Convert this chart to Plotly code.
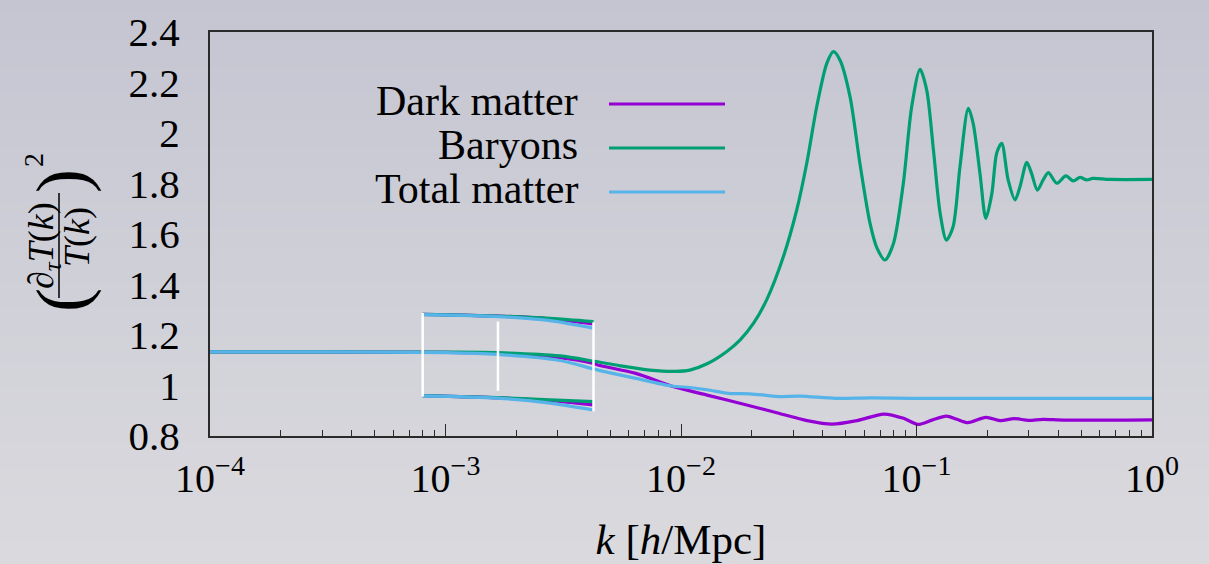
import base64, struct, zlib
import plotly.graph_objects as go

# ---------------- data ----------------
k_dm = [1e-4, 3e-4, 1e-3, 1.66e-3, 3.06e-3, 4.22e-3, 4.53e-3, 6.43e-3, 9.1e-3, 1.29e-2,
        1.83e-2, 2.60e-2, 3.43e-2, 4.38e-2, 5.59e-2, 7.28e-2, 8.81e-2, 0.1014, 0.1164,
        0.134, 0.1486, 0.1653, 0.197, 0.2264, 0.2596, 0.299, 0.344, 0.423, 1.0]
dark_matter = [1.133, 1.133, 1.131, 1.127, 1.110, 1.088, 1.079, 1.048, 0.998, 0.962,
               0.927, 0.890, 0.861, 0.847, 0.861, 0.887, 0.870, 0.846, 0.863,
               0.879, 0.866, 0.853, 0.874, 0.861, 0.869, 0.862, 0.866, 0.863, 0.864]

k_b = [1e-4, 3e-4, 1e-3, 1.66e-3, 3.06e-3, 4.22e-3, 5.51e-3, 7.38e-3, 9.44e-3, 1.09e-2,
       1.29e-2, 1.56e-2, 1.78e-2, 2.03e-2, 2.31e-2, 2.72e-2, 3.10e-2, 3.42e-2, 3.77e-2,
       4.16e-2, 4.44e-2, 4.73e-2, 5.22e-2, 5.75e-2, 6.35e-2, 6.79e-2, 7.35e-2, 7.97e-2,
       8.79e-2, 9.54e-2, 0.1035, 0.1105, 0.118, 0.126, 0.134, 0.143, 0.153, 0.166, 0.174,
       0.186, 0.197, 0.209, 0.219, 0.230, 0.245, 0.262, 0.275, 0.294, 0.308, 0.326, 0.345,
       0.363, 0.394, 0.431, 0.463, 0.495, 0.528, 0.561, 0.663, 1.0]
baryons = [1.133, 1.133, 1.132, 1.130, 1.117, 1.097, 1.078, 1.061, 1.056, 1.061,
           1.086, 1.134, 1.180, 1.246, 1.339, 1.510, 1.695, 1.880, 2.104,
           2.276, 2.322, 2.289, 2.144, 1.880, 1.642, 1.545, 1.497, 1.560,
           1.800, 2.104, 2.252, 2.170, 1.933, 1.682, 1.576, 1.629, 1.867, 2.098, 2.038,
           1.840, 1.662, 1.761, 1.920, 1.959, 1.814, 1.735, 1.787, 1.884, 1.840, 1.774, 1.814,
           1.843, 1.801, 1.830, 1.810, 1.824, 1.814, 1.820, 1.816, 1.816]

k_tot = [1e-4, 3e-4, 1e-3, 1.66e-3, 3.06e-3, 4.22e-3, 4.53e-3, 6.43e-3, 9.1e-3, 1.09e-2,
         1.29e-2, 1.59e-2, 1.96e-2, 2.3e-2, 2.6e-2, 3.2e-2, 4.54e-2, 6.41e-2, 0.105, 1.0]
total_matter = [1.133, 1.133, 1.130, 1.123, 1.099, 1.066, 1.059, 1.028, 0.998, 0.992,
                0.983, 0.969, 0.967, 0.961, 0.956, 0.958, 0.949, 0.951, 0.949, 0.949]

# shifted copies inside the white bracket
k_copy = [8.0e-4, 1.67e-3, 2.78e-3, 4.25e-3]
upper_dm = [1.282, 1.275, 1.264, 1.244]
upper_b = [1.282, 1.275, 1.266, 1.253]
upper_tot = [1.281, 1.273, 1.257, 1.227]
lower_dm = [0.960, 0.951, 0.940, 0.923]
lower_b = [0.960, 0.952, 0.943, 0.936]
lower_tot = [0.959, 0.950, 0.930, 0.903]

# white vertical bars
bar_k = [8.0e-4, 1.67e-3, 4.25e-3]
bar_top = [1.287, 1.253, 1.250]
bar_bot = [0.956, 0.979, 0.897]

series_names = ["Dark matter", "Baryons", "Total matter"]
x_tickvals = [1e-4, 1e-3, 1e-2, 1e-1, 1]
x_ticktext = ["10<sup>−4</sup>", "10<sup>−3</sup>", "10<sup>−2</sup>", "10<sup>−1</sup>", "10<sup>0</sup>"]
y_tickvals = [0.8, 1.0, 1.2, 1.4, 1.6, 1.8, 2.0, 2.2, 2.4]
y_ticktext = ["0.8", "1", "1.2", "1.4", "1.6", "1.8", "2", "2.2", "2.4"]

# ---------------- style ----------------
C_DM, C_B, C_T = "#9400d3", "#009e73", "#56b4e9"
FONT = "Liberation Serif"
W, H = 1209, 564
L, R, T, B = 210, 57, 32, 128
PW, PH = W - L - R, H - T - B


def px(x):
    return (x - L) / PW


def py(y):
    return (H - B - y) / PH


def gradient_png(h, top, bot):
    raw = b""
    for i in range(h):
        t = i / (h - 1)
        c = bytes(int(round(top[j] + (bot[j] - top[j]) * t)) for j in range(3))
        raw += b"\x00" + c

    def chunk(tag, data):
        return struct.pack(">I", len(data)) + tag + data + struct.pack(">I", zlib.crc32(tag + data) & 0xffffffff)

    png = b"\x89PNG\r\n\x1a\n" + chunk(b"IHDR", struct.pack(">IIBBBBB", 1, h, 8, 2, 0, 0, 0))
    png += chunk(b"IDAT", zlib.compress(raw)) + chunk(b"IEND", b"")
    return "data:image/png;base64," + base64.b64encode(png).decode()


fig = go.Figure()


def line(x, y, color, width=3.2):
    fig.add_trace(go.Scatter(x=x, y=y, mode="lines", line=dict(color=color, width=width, shape="spline", smoothing=0.8),
                             showlegend=False, hoverinfo="skip"))


line(k_dm, dark_matter, C_DM)
line(k_b, baryons, C_B)
line(k_tot, total_matter, C_T)
for ys, c in [(upper_dm, C_DM), (upper_b, C_B), (upper_tot, C_T), (lower_dm, C_DM), (lower_b, C_B), (lower_tot, C_T)]:
    line(k_copy, ys, c)

bx, by = [], []
for k0, t0, b0 in zip(bar_k, bar_top, bar_bot):
    bx += [k0, k0, None]
    by += [t0, b0, None]
fig.add_trace(go.Scatter(x=bx, y=by, mode="lines", line=dict(color="white", width=2.5), showlegend=False, hoverinfo="skip"))

axis_col = "#2a2a2a"
fig.update_xaxes(type="log", range=[-4, 0], tickvals=x_tickvals, ticktext=x_ticktext, automargin=False,
                 ticks="inside", ticklen=12, tickwidth=1.2, tickcolor=axis_col,
                 minor=dict(ticks="inside", ticklen=6, tickwidth=1, tickcolor=axis_col,
                            tickvals=[m * 10 ** e for e in range(-4, 0) for m in range(2, 10)]),
                 showline=True, linecolor=axis_col, linewidth=2, mirror=True, showgrid=False, zeroline=False,
                 tickfont=dict(family=FONT, size=40, color="black"), ticklabelstandoff=6,
                 title=dict(text="<i>k</i> [<i>h</i>/Mpc]", font=dict(family=FONT, size=43, color="black"), standoff=24))
fig.update_yaxes(range=[0.8, 2.4], tickvals=y_tickvals, ticktext=y_ticktext, ticks="", automargin=False,
                 showline=True, linecolor=axis_col, linewidth=2, mirror=True, showgrid=False, zeroline=False,
                 ticklabelstandoff=20,
                 tickfont=dict(family=FONT, size=41, color="black"))

ann = []
# legend (text to the left of the sample line)
for name, yy, c in zip(series_names, [101, 145, 189], [C_DM, C_B, C_T]):
    ann.append(dict(x=px(580), y=py(yy), xref="paper", yref="paper", xanchor="right", yanchor="middle",
                    text=name, showarrow=False, font=dict(family=FONT, size=42, color="black")))
    fig.add_shape(type="line", xref="paper", yref="paper", x0=px(609), x1=px(725), y0=py(yy + 3), y1=py(yy + 3),
                  line=dict(color=c, width=3))

# y axis title as a stacked fraction
tf = dict(family=FONT, color="black")


def rot(xp, yp, text, size):
    ann.append(dict(x=px(xp), y=py(yp), xref="paper", yref="paper", xanchor="center", yanchor="middle",
                    textangle=-90, showarrow=False, text=text, font=dict(size=size, **tf)))


rot(43, 246, "∂<sub><i>τ</i></sub><i>T</i>(<i>k</i>)", 36)
rot(77, 237, "<i>T</i>(<i>k</i>)", 36)
rot(62, 300, "(", 72)
rot(62, 181, ")", 72)
rot(33, 160, "2", 28)
fig.add_shape(type="line", xref="paper", yref="paper", x0=px(59), x1=px(59), y0=py(193), y1=py(298),
              line=dict(color="black", width=1.5))

fig.update_layout(
    width=W, height=H, margin=dict(l=L, r=R, t=T, b=B, autoexpand=False),
    paper_bgcolor="#cfcfd8", plot_bgcolor="rgba(0,0,0,0)",
    annotations=ann, showlegend=False,
    images=[dict(source=gradient_png(H, (197, 197, 210), (218, 218, 222)), xref="paper", yref="paper",
                 x=-L / PW, y=1 + T / PH, sizex=W / PW, sizey=H / PH, xanchor="left", yanchor="top",
                 sizing="stretch", layer="below")],
)

fig.write_html("out.html", config=dict(displayModeBar=False))
